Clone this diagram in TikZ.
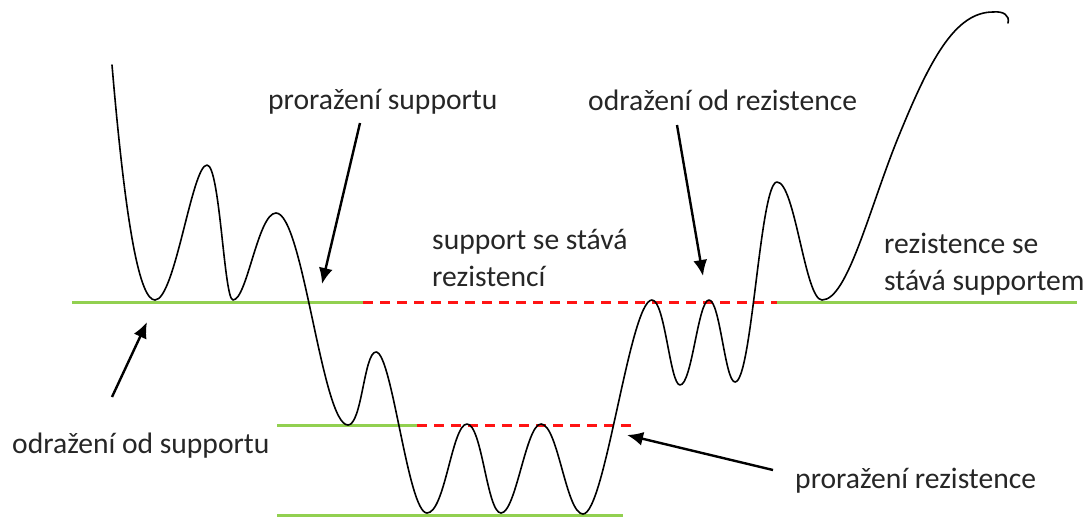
\documentclass[tikz,border=0pt]{standalone}
\usepackage{fontspec}
\setmainfont{Carlito}
\usetikzlibrary{arrows.meta}
\definecolor{lvlgreen}{RGB}{146,208,80}
\definecolor{lvlred}{RGB}{255,20,20}
\definecolor{txt}{RGB}{38,38,38}
\tikzset{
  price/.style={line width=1.6pt, black, line join=round, line cap=round},
  holds/.style={line width=3pt, lvlgreen},
  broken/.style={line width=3pt, lvlred, dash pattern=on 10pt off 7pt},
  pointer/.style={line width=2.4pt, black, -{Latex[length=16pt,width=14pt]}},
  lbl/.style={inner sep=0pt, anchor=base west, align=left, text=txt,
              font=\fontsize{29.6}{37}\selectfont}
}
\begin{document}
\begin{tikzpicture}[x=1pt, y=-1pt]
\useasboundingbox (0,0) rectangle (1086,517);

% support / resistance levels
\draw[holds]  (72,302) -- (363,302);
\draw[broken] (363,302) -- (777,302);
\draw[holds]  (777,302) -- (1077,302);
\draw[holds]  (277,425) -- (417,425);
\draw[broken] (417,425) -- (632,425);
\draw[holds]  (277,515) -- (623,515);

% price path
\draw[price] (112,65) .. controls (126,230) and (140,300) .. (155,300)
  .. controls (175,300) and (192,165) .. (207,165)
  .. controls (220,165) and (224,300) .. (233,300)
  .. controls (247,300) and (258,213) .. (276,213)
  .. controls (303,213) and (322,425) .. (348,425)
  .. controls (362,425) and (364,352) .. (376,352)
  .. controls (392,352) and (408,513) .. (427,513)
  .. controls (445,513) and (452,424) .. (467,424)
  .. controls (482,424) and (487,513) .. (501,513)
  .. controls (516,513) and (526,424) .. (541,424)
  .. controls (558,424) and (566,514) .. (583,514)
  .. controls (605,514) and (630,300) .. (652,300)
  .. controls (665,300) and (670,385) .. (680,385)
  .. controls (692,385) and (698,300) .. (709,300)
  .. controls (720,300) and (725,382) .. (735,382)
  .. controls (752,382) and (760,182) .. (777,182)
  .. controls (795,182) and (805,300) .. (822,300)
  .. controls (848,300) and (870,205) .. (900,133)
  .. controls (930,60) and (955,12) .. (993,12)
  .. controls (1003,11) and (1010,15) .. (1008,23);

% labels (two-line labels are placed by the baseline of their last line)
\node[lbl] (brkS) at (268,109) {proražení supportu};
\node[lbl] (bncR) at (588,110) {odražení od rezistence};
\node[lbl] (flip1) at (432,286) {support se stává\\rezistencí};
\node[lbl] (flip2) at (884,290) {rezistence se\\stává supportem};
\node[lbl] (bncS) at (12,453) {odražení od supportu};
\node[lbl] (brkR) at (795,488) {proražení rezistence};

% pointers
\coordinate (brkS-from) at (360,123);
\coordinate (brkS-to)   at (322,284);
\coordinate (bncR-from) at (677,125);
\coordinate (bncR-to)   at (703,276);
\coordinate (bncS-from) at (112,397);
\coordinate (bncS-to)   at (147,322);
\coordinate (brkR-from) at (773,470);
\coordinate (brkR-to)   at (627,435);
\draw[pointer] (brkS-from) -- (brkS-to);
\draw[pointer] (bncR-from) -- (bncR-to);
\draw[pointer] (bncS-from) -- (bncS-to);
\draw[pointer] (brkR-from) -- (brkR-to);
\end{tikzpicture}
\end{document}
